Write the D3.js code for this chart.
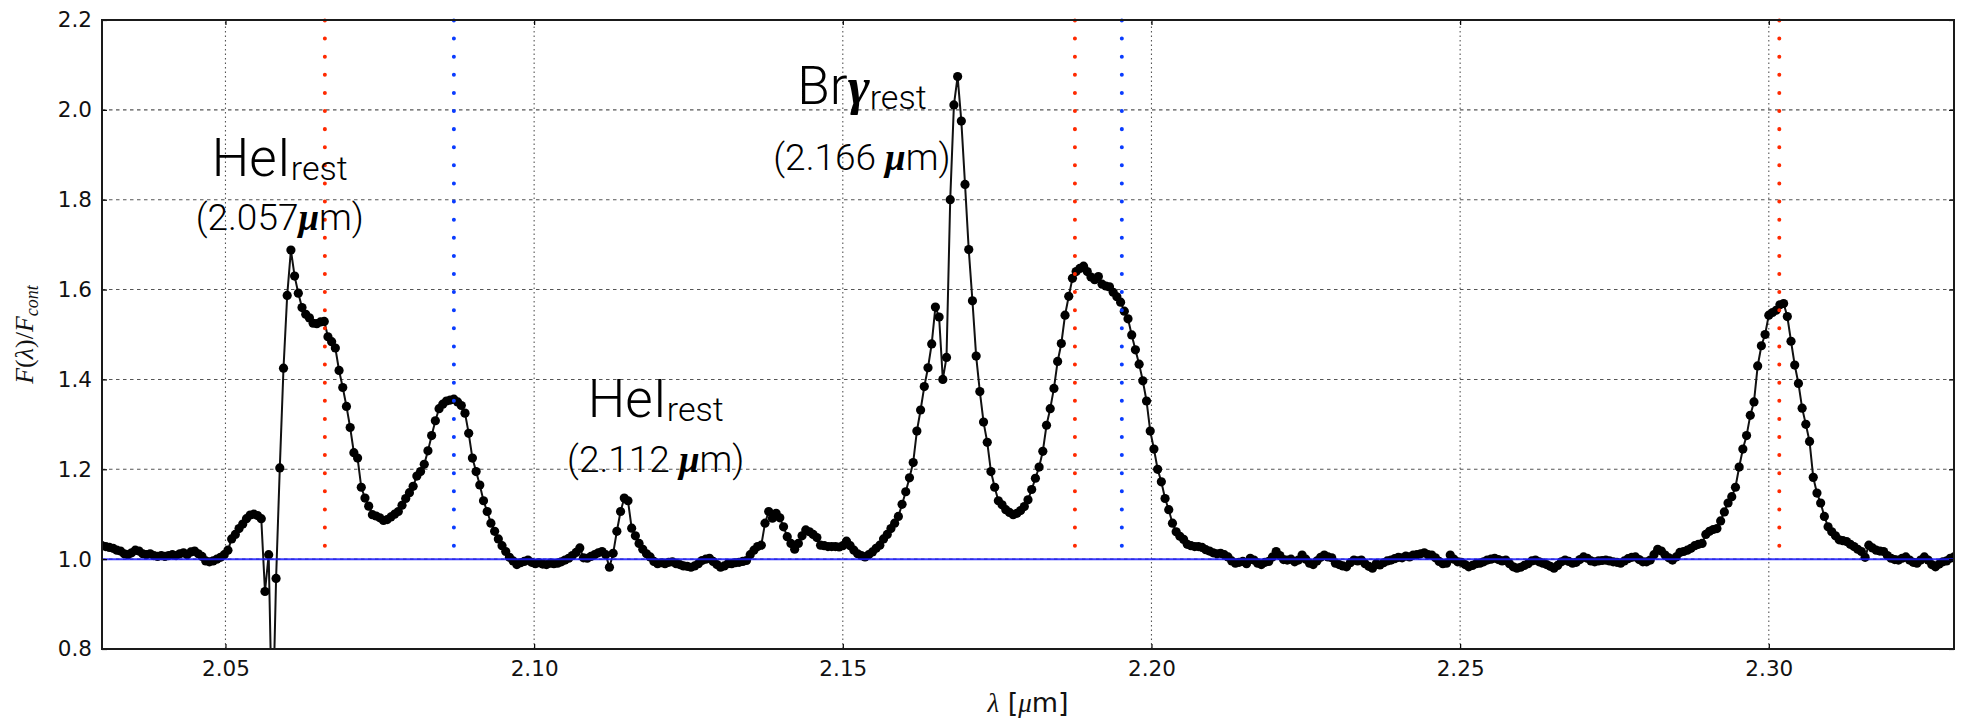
<!DOCTYPE html>
<html>
<head>
<meta charset="utf-8">
<script src="https://cdn.jsdelivr.net/npm/d3@7"></script>
<style>
  body { margin: 0; background: #fff; }
  svg { display: block; }
</style>
</head>
<body>
<svg id="chart" width="1961" height="718"></svg>
<script>
// ---------------- DATA ----------------
// spectral sampling of the plotted spectrum (start wavelength and pixel step, in micron)
const lambdaStart = 2.0300;
const lambdaStep = 0.0006;
// normalised flux F(lambda)/F_cont, one value per sample
const flux = [
  1.030,1.028,1.026,1.024,1.020,1.018,1.012,1.010,1.014,1.020,
  1.018,1.012,1.010,1.012,1.008,1.006,1.008,1.006,1.008,1.010,
  1.008,1.012,1.014,1.010,1.016,1.018,1.012,1.006,0.996,0.994,
  0.996,1.000,1.004,1.010,1.020,1.045,1.055,1.068,1.078,1.090,
  1.098,1.100,1.097,1.090,0.928,1.010,0.600,0.957,1.203,1.425,
  1.587,1.688,1.630,1.592,1.560,1.545,1.537,1.525,1.524,1.528,
  1.529,1.495,1.484,1.470,1.420,1.382,1.340,1.293,1.237,1.225,
  1.160,1.136,1.118,1.099,1.096,1.092,1.086,1.088,1.094,1.100,
  1.106,1.120,1.135,1.148,1.162,1.185,1.195,1.211,1.241,1.275,
  1.308,1.335,1.345,1.352,1.354,1.356,1.350,1.342,1.325,1.280,
  1.225,1.195,1.165,1.130,1.106,1.080,1.062,1.045,1.030,1.017,
  1.004,0.996,0.988,0.992,0.995,0.998,0.993,0.990,0.992,0.989,
  0.988,0.991,0.990,0.991,0.994,0.998,1.002,1.008,1.015,1.025,
  1.003,1.002,1.006,1.010,1.014,1.017,1.010,0.982,1.013,1.062,
  1.106,1.136,1.130,1.069,1.052,1.035,1.022,1.012,1.005,0.995,
  0.990,0.992,0.990,0.993,0.994,0.990,0.988,0.985,0.984,0.982,
  0.985,0.990,0.997,1.000,1.002,0.995,0.988,0.982,0.985,0.990,
  0.990,0.992,0.993,0.995,0.997,1.010,1.020,1.028,1.031,1.080,
  1.106,1.091,1.102,1.092,1.072,1.050,1.035,1.022,1.035,1.052,
  1.065,1.061,1.055,1.048,1.031,1.030,1.028,1.028,1.028,1.027,
  1.030,1.040,1.030,1.020,1.012,1.008,1.005,1.010,1.016,1.024,
  1.031,1.045,1.055,1.068,1.080,1.095,1.122,1.150,1.181,1.215,
  1.285,1.332,1.384,1.426,1.479,1.561,1.539,1.400,1.449,1.800,
  2.011,2.074,1.975,1.834,1.689,1.575,1.452,1.373,1.305,1.260,
  1.195,1.160,1.130,1.121,1.110,1.104,1.099,1.102,1.108,1.117,
  1.132,1.155,1.180,1.205,1.240,1.298,1.335,1.380,1.440,1.480,
  1.543,1.585,1.625,1.640,1.647,1.652,1.640,1.628,1.622,1.629,
  1.612,1.608,1.606,1.594,1.584,1.572,1.552,1.535,1.499,1.466,
  1.434,1.397,1.352,1.285,1.245,1.200,1.172,1.135,1.110,1.080,
  1.061,1.051,1.044,1.033,1.030,1.028,1.028,1.026,1.021,1.018,
  1.014,1.012,1.013,1.010,1.005,0.996,0.991,0.993,0.995,0.990,
  1.002,0.998,0.991,0.988,0.993,0.995,1.005,1.017,1.008,0.999,
  0.998,1.000,0.994,0.998,1.009,1.000,0.991,0.988,0.996,1.004,
  1.009,1.005,1.003,0.991,0.988,0.985,0.983,0.992,0.998,0.996,
  0.998,0.990,0.984,0.980,0.990,0.987,0.992,0.996,0.998,1.001,
  1.004,1.003,1.007,1.005,1.009,1.010,1.012,1.014,1.010,1.009,
  1.003,0.995,0.990,0.991,1.009,1.000,0.994,0.993,0.988,0.983,
  0.986,0.990,0.991,0.994,0.998,1.000,1.002,0.999,0.996,0.998,
  0.990,0.983,0.980,0.982,0.986,0.990,0.996,0.998,0.994,0.991,
  0.988,0.984,0.980,0.986,0.994,0.998,0.995,0.991,0.993,0.999,
  1.005,1.002,0.996,0.994,0.996,0.997,0.998,0.996,0.994,0.993,
  0.991,0.996,1.001,1.004,1.005,0.999,0.994,0.994,0.998,1.010,
  1.022,1.018,1.009,1.003,0.998,1.005,1.015,1.017,1.020,1.024,
  1.030,1.033,1.035,1.055,1.062,1.066,1.068,1.085,1.105,1.125,
  1.139,1.160,1.205,1.245,1.275,1.320,1.350,1.430,1.475,1.500,
  1.543,1.549,1.554,1.566,1.569,1.540,1.485,1.432,1.391,1.336,
  1.300,1.262,1.182,1.147,1.125,1.095,1.072,1.061,1.052,1.043,
  1.041,1.039,1.033,1.028,1.022,1.017,1.004,1.031,1.025,1.020,
  1.018,1.017,1.008,1.002,0.999,0.998,1.002,1.005,0.998,0.993,
  0.991,0.998,1.005,0.998,0.988,0.983,0.989,0.994,0.996,1.002,
  1.005
];
const xTicks = [2.05, 2.10, 2.15, 2.20, 2.25, 2.30];
const yTicks = [0.8, 1.0, 1.2, 1.4, 1.6, 1.8, 2.0, 2.2];
const xDomain = [2.03, 2.33];
const yDomain = [0.8, 2.2];
const continuumLevel = 1.0;
const redLines = [2.0661, 2.1876, 2.3017];
const blueLines = [2.0870, 2.1952];
const markerLineBottom = 1.03;
// line labels
const labelNames = ["HeI", "Br", "HeI"];
const labelGreek = ["", "\u03B3", ""];
const labelSub = ["rest", "rest", "rest"];
const labelWave = ["(2.057", "(2.166 ", "(2.112 "];
const labelAtLambda = [2.0588, 2.1531, 2.1197];
const labelAtFlux1 = [1.853, 2.013, 1.316];
const labelAtFlux2 = [1.7325, 1.866, 1.194];

// ---------------- CHART ----------------
const W = 1961, H = 718;
const margin = { top: 20, right: 7, bottom: 69, left: 102 };
const svg = d3.select("#chart");
const x = d3.scaleLinear().domain(xDomain).range([margin.left, W - margin.right]);
const y = d3.scaleLinear().domain(yDomain).range([H - margin.bottom, margin.top]);
const wavelength = flux.map((_, i) => lambdaStart + i * lambdaStep);
const data = flux.map((f, i) => ({ w: wavelength[i], f: f }));

svg.append("rect").attr("width", W).attr("height", H).attr("fill", "#fff");

svg.append("defs").append("clipPath").attr("id", "plotClip")
  .append("rect")
  .attr("x", margin.left).attr("y", margin.top)
  .attr("width", W - margin.left - margin.right)
  .attr("height", H - margin.top - margin.bottom);

// grid
const grid = svg.append("g");
grid.selectAll("line.hg").data(yTicks.slice(1, -1)).join("line")
  .attr("class", "hg")
  .attr("x1", x.range()[0]).attr("x2", x.range()[1])
  .attr("y1", d => y(d)).attr("y2", d => y(d))
  .attr("stroke", "#555").attr("stroke-width", 1.1)
  .attr("stroke-dasharray", "3.5 3.5");
grid.selectAll("line.vg").data(xTicks).join("line")
  .attr("class", "vg")
  .attr("x1", d => x(d)).attr("x2", d => x(d))
  .attr("y1", y.range()[0]).attr("y2", y.range()[1])
  .attr("stroke", "#555").attr("stroke-width", 1.1)
  .attr("stroke-dasharray", "1.5 3");

// spectrum
const plot = svg.append("g").attr("clip-path", "url(#plotClip)");
plot.append("path").datum(data)
  .attr("fill", "none").attr("stroke", "#111").attr("stroke-width", 2)
  .attr("d", d3.line().x(d => x(d.w)).y(d => y(d.f)));
plot.selectAll("circle").data(data).join("circle")
  .attr("cx", d => x(d.w)).attr("cy", d => y(d.f)).attr("r", 4.6)
  .attr("fill", "#000");

// continuum line
plot.append("line")
  .attr("x1", x.range()[0]).attr("x2", x.range()[1])
  .attr("y1", y(continuumLevel)).attr("y2", y(continuumLevel))
  .attr("stroke", "#1a1aff").attr("stroke-width", 2).attr("stroke-opacity", 0.85);

// dotted marker lines
function markerLines(vals, color) {
  svg.append("g").selectAll("line").data(vals).join("line")
    .attr("x1", d => x(d)).attr("x2", d => x(d))
    .attr("y1", y(markerLineBottom)).attr("y2", y(yDomain[1]))
    .attr("stroke", color).attr("stroke-width", 4)
    .attr("stroke-linecap", "round")
    .attr("stroke-dasharray", "0.01 18.1");
}
markerLines(redLines, "#ff2a00");
markerLines(blueLines, "#0a3cff");

// axes (ticks inward)
const fmtX = d3.format(".2f"), fmtY = d3.format(".1f");
const xAxis = svg.append("g").attr("transform", `translate(0,${y(yDomain[0])})`)
  .call(d3.axisBottom(x).tickValues(xTicks).tickFormat(fmtX)
    .tickSizeInner(-5).tickSizeOuter(0).tickPadding(12));
const yAxis = svg.append("g").attr("transform", `translate(${x(xDomain[0])},0)`)
  .call(d3.axisLeft(y).tickValues(yTicks).tickFormat(fmtY)
    .tickSizeInner(-5).tickSizeOuter(0).tickPadding(10));
const xTop = svg.append("g").attr("transform", `translate(0,${y(yDomain[1])})`)
  .call(d3.axisTop(x).tickValues(xTicks).tickFormat("").tickSizeInner(-5).tickSizeOuter(0));
const yRight = svg.append("g").attr("transform", `translate(${x(xDomain[1])},0)`)
  .call(d3.axisRight(y).tickValues(yTicks).tickFormat("").tickSizeInner(-5).tickSizeOuter(0));
[xAxis, yAxis, xTop, yRight].forEach(g => {
  g.select(".domain").remove();
  g.attr("font-family", "'DejaVu Sans', sans-serif").attr("font-size", 21.5);
  g.selectAll(".tick line").attr("stroke", "#000").attr("stroke-width", 1.2);
  g.selectAll(".tick text").attr("fill", "#111");
});

// frame
svg.append("rect")
  .attr("x", x.range()[0]).attr("y", y.range()[1])
  .attr("width", x.range()[1] - x.range()[0])
  .attr("height", y.range()[0] - y.range()[1])
  .attr("fill", "none").attr("stroke", "#1a1a1a").attr("stroke-width", 2);

// axis labels
const serif = "'Liberation Serif', 'DejaVu Serif', serif";
const xl = svg.append("text")
  .attr("x", (x.range()[0] + x.range()[1]) / 2).attr("y", 712)
  .attr("text-anchor", "middle").attr("font-size", 27).attr("fill", "#111")
  .attr("font-family", "'DejaVu Sans', sans-serif");
xl.append("tspan").attr("font-family", serif).attr("font-style", "italic").text("\u03BB");
xl.append("tspan").text(" [");
xl.append("tspan").attr("font-family", serif).attr("font-style", "italic").text("\u03BC");
xl.append("tspan").text("m]");

const yl = svg.append("text")
  .attr("transform", `translate(33,${(y.range()[0] + y.range()[1]) / 2}) rotate(-90)`)
  .attr("text-anchor", "middle").attr("font-size", 26).attr("fill", "#111")
  .attr("font-family", serif);
yl.append("tspan").attr("font-style", "italic").text("F");
yl.append("tspan").text("(");
yl.append("tspan").attr("font-style", "italic").text("\u03BB");
yl.append("tspan").text(")/");
yl.append("tspan").attr("font-style", "italic").text("F");
yl.append("tspan").attr("font-style", "italic").attr("font-size", 18).attr("dy", 5).text("cont");

// line labels
const labelFont = "Roboto, 'Open Sans', sans-serif";
labelNames.forEach((name, i) => {
  const t1 = svg.append("text")
    .attr("x", x(labelAtLambda[i])).attr("y", y(labelAtFlux1[i]))
    .attr("text-anchor", "middle").attr("font-family", labelFont)
    .attr("font-weight", 300).attr("font-size", 53).attr("fill", "#000");
  t1.append("tspan").text(name);
  if (labelGreek[i]) {
    t1.append("tspan").attr("font-family", serif).attr("font-weight", "bold")
      .attr("font-style", "italic").text(labelGreek[i]);
  }
  t1.append("tspan").attr("font-size", 34).attr("dy", labelGreek[i] ? 5 : 4).text(labelSub[i]);

  const t2 = svg.append("text")
    .attr("x", x(labelAtLambda[i])).attr("y", y(labelAtFlux2[i]))
    .attr("text-anchor", "middle").attr("font-family", labelFont)
    .attr("font-weight", 300).attr("font-size", 37).attr("fill", "#000");
  t2.append("tspan").text(labelWave[i]);
  t2.append("tspan").attr("font-family", serif).attr("font-weight", "bold")
    .attr("font-style", "italic").text("\u03BC");
  t2.append("tspan").text("m)");
});
</script>
</body>
</html>
